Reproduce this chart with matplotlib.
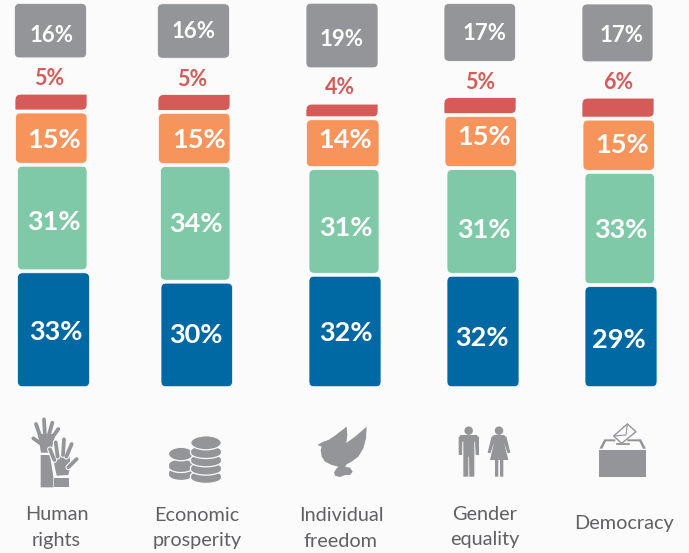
#!/usr/bin/env python3
"""Stacked percentage columns with hand-drawn looking blocks and icons."""
import numpy as np
import matplotlib
matplotlib.use("Agg")
import matplotlib.pyplot as plt
from matplotlib.path import Path
from matplotlib.patches import PathPatch, Polygon, Ellipse

# ---- data -----------------------------------------------------------------
categories = ["Human\nrights", "Economic\nprosperity", "Individual\nfreedom",
              "Gender\nequality", "Democracy"]
blue = [33, 30, 32, 32, 29]
green = [31, 34, 31, 31, 33]
orange = [15, 15, 14, 15, 15]
red = [5, 5, 4, 5, 6]
grey = [16, 16, 19, 17, 17]

# ---- layout (pixels of the 689x553 picture) --------------------------------
C_BG = "#fbfbfc"
C_BLUE, C_GREEN, C_ORANGE, C_RED, C_GREY = "#0069a3", "#80c9a8", "#f7945c", "#d65b58", "#939598"
C_TEXT = "#5f6062"
PX = 3.4            # pixels per percent
BASE = 386.7        # pixel row of 0 %
GAP = 3.0           # white gap between blocks
RED_GAP = 36.3      # room for the red label
# the blocks are not quite equally scaled in the original
stretch = {"blue": 1.015, "green": 0.983, "orange": 0.985, "red": 0.93, "grey": 1.0}
edges = {
    "blue": [(17.5, 89.5), (161, 232.5), (309, 381), (447, 519), (585, 657)],
    "green": [(17.5, 87), (160.5, 230), (309, 379), (447, 516.5), (585, 654.5)],
    "orange": [(15.5, 87), (158.5, 230), (306.5, 379), (445, 516.5), (583, 654.5)],
    "red": [(15, 87), (158, 230), (306, 378), (444, 516), (582, 654)],
    "grey": [(14.5, 86.5), (157.5, 229.5), (306, 378), (444, 515.5), (582, 653)],
}
label_xy = {
    "blue": [(56, 330), (196, 333), (345.5, 331), (481.5, 335.5), (618.5, 338.5)],
    "green": [(53.7, 220), (196, 222.5), (345.5, 226), (484.3, 228.3), (621.3, 228)],
    "orange": [(54, 137.7), (199, 137.7), (345, 138.5), (484.3, 135), (621.7, 143.3)],
    "red": [(48.7, 76.7), (191.7, 77.7), (340, 86), (480, 80.7), (618, 80.7)],
    "grey": [(51.7, 33), (194, 29.5), (342, 37), (485, 31.7), (621.7, 33)],
}
cat_xy = [(56.5, 527.5), (197, 528), (341, 528.5), (484.5, 527), (624, 524)]

plt.rcParams["font.family"] = ["Lato", "DejaVu Sans"]
fig = plt.figure(figsize=(6.89, 5.53), dpi=100, facecolor=C_BG)

# bars: x in pixels, y in percent
ax = fig.add_axes([0, 0, 1, 1])
ax.set_xlim(0, 689)
ax.set_ylim(-(553 - BASE) / PX, BASE / PX)
ax.axis("off")

# overlay in pixel rows for the icons and the texts
pa = fig.add_axes([0, 0, 1, 1])
pa.set_xlim(0, 689)
pa.set_ylim(553, 0)
pa.axis("off")
pa.patch.set_alpha(0)


def block(x0, x1, y0, y1, color, r=(5, 5, 5, 5)):
    """Rounded block; r = bottom-left, bottom-right, top-right, top-left (px)."""
    ry = [v / PX for v in r]
    verts = [(x0 + r[0], y0), (x1 - r[1], y0), (x1, y0), (x1, y0 + ry[1]),
             (x1, y1 - ry[2]), (x1, y1), (x1 - r[2], y1),
             (x0 + r[3], y1), (x0, y1), (x0, y1 - ry[3]),
             (x0, y0 + ry[0]), (x0, y0), (x0 + r[0], y0), (x0 + r[0], y0)]
    codes = [Path.MOVETO, Path.LINETO, Path.CURVE3, Path.CURVE3,
             Path.LINETO, Path.CURVE3, Path.CURVE3,
             Path.LINETO, Path.CURVE3, Path.CURVE3,
             Path.LINETO, Path.CURVE3, Path.CURVE3, Path.CLOSEPOLY]
    ax.add_patch(PathPatch(Path(verts, codes), fc=color, ec="#ffffff", lw=0.5))


for i in range(len(categories)):
    y = 0.0
    for key, vals, col in [("blue", blue, C_BLUE), ("green", green, C_GREEN),
                           ("orange", orange, C_ORANGE), ("red", red, C_RED)]:
        h = vals[i] * stretch[key]
        x0, x1 = edges[key][i]
        block(x0, x1, y, y + h, col, r=(1, 5, 0.5, 6) if key == "red" else (5, 5, 5, 5))
        y += h + GAP / PX
    y += (RED_GAP - GAP) / PX
    x0, x1 = edges["grey"][i]
    block(x0, x1, y, y + grey[i] * stretch["grey"], C_GREY)

# ---- value labels ----------------------------------------------------------
for key, vals, col, size, weight in [("blue", blue, "white", 19.5, "bold"),
                                     ("green", green, "white", 19.5, "bold"),
                                     ("orange", orange, "white", 19.5, "bold"),
                                     ("red", red, C_RED, 15.5, "bold"),
                                     ("grey", grey, "white", 16, "bold")]:
    for (lx, ly), v in zip(label_xy[key], vals):
        pa.text(lx, ly, f"{v}%", color=col, fontsize=size, fontweight=weight,
                ha="center", va="center_baseline")

for (lx, ly), name in zip(cat_xy, categories):
    pa.text(lx, ly, name, color=C_TEXT, fontsize=14.3, ha="center", va="center",
            linespacing=1.58)


# ---- icons -----------------------------------------------------------------
def zpoly(pts, ox, oy, **kw):
    """Polygon from points read in a 3x crop with origin ox, oy."""
    xy = [(ox + a / 3, oy + b / 3) for a, b in pts]
    kw.setdefault("fc", C_GREY)
    kw.setdefault("ec", "none")
    pa.add_patch(Polygon(xy, closed=True, **kw))


def hand(palm, fingers, ox, oy, outline=False):
    if outline:
        for base, tip in fingers:
            pa.plot([ox + base[0] / 3, ox + tip[0] / 3], [oy + base[1] / 3, oy + tip[1] / 3],
                    color=C_BG, lw=4.2, solid_capstyle="round")
        zpoly(palm, ox, oy, fc=C_GREY, ec=C_BG, lw=1.6)
    for base, tip in fingers:
        pa.plot([ox + base[0] / 3, ox + tip[0] / 3], [oy + base[1] / 3, oy + tip[1] / 3],
                color=C_GREY, lw=2.7, solid_capstyle="round")
    zpoly(palm, ox, oy)


# raised hands
hx, hy = 25, 410
hand([(38, 72), (92, 72), (84, 100), (78, 128), (48, 128), (44, 105)],
     [((46, 100), (25, 85)), ((48, 85), (33, 42)), ((60, 80), (57, 28)),
      ((70, 80), (82, 38)), ((80, 85), (100, 57))], hx, hy)
zpoly([(47, 135), (75, 135), (85, 200), (85, 232), (47, 232)], hx, hy)
hand([(85, 135), (132, 135), (138, 162), (130, 195), (95, 197), (88, 165)],
     [((88, 150), (75, 118)), ((98, 140), (92, 97)), ((114, 135), (117, 88)),
      ((124, 140), (140, 102)), ((130, 172), (155, 147))], hx, hy, outline=True)
zpoly([(88, 205), (133, 205), (133, 232), (88, 232)], hx, hy)


# coins
def coin(cx, cy, rx, ry, t, zorder=3):
    a = np.linspace(0, np.pi, 40)
    lower = np.c_[cx + rx * np.cos(a), cy + t + ry * np.sin(a)]
    upper = np.c_[cx - rx * np.cos(a), cy - ry * np.sin(a)]
    pa.add_patch(Polygon(np.r_[lower, upper], closed=True, fc=C_GREY, ec=C_BG,
                         lw=0.9, zorder=zorder))


for cy in [472.5, 464.5]:
    coin(181, cy, 12.5, 5.5, 2.5)
pa.add_patch(Ellipse((181, 454), 25, 13.5, fc=C_GREY, ec=C_BG, lw=0.9, zorder=3))
for cy in [476, 467.7, 459.4, 451.1]:
    coin(206, cy, 15.5, 5.6, 1.8, zorder=4)
pa.add_patch(Ellipse((206, 442.8), 30.5, 14, fc=C_GREY, ec=C_BG, lw=0.9, zorder=4))

# dove
zpoly([(37, 90), (55, 80), (70, 75), (90, 62), (105, 50), (125, 35), (127, 60), (124, 84),
       (150, 65), (185, 35), (183, 70), (175, 100), (160, 125), (140, 140), (125, 148),
       (120, 155), (135, 158), (143, 170), (135, 180), (120, 180), (105, 186), (90, 182),
       (87, 172), (95, 160), (100, 155), (80, 150), (60, 140), (50, 125), (47, 105), (50, 95)],
      305, 415)

# man and woman
px0, py0 = 340, 400
pa.add_patch(Ellipse((px0 + 386 / 3, py0 + 92 / 3), 8.5, 8.5, fc=C_GREY, ec="none"))
pa.add_patch(Ellipse((px0 + 477 / 3, py0 + 92 / 3), 8.5, 8.5, fc=C_GREY, ec="none"))
zpoly([(362, 105), (410, 105), (417, 112), (417, 165), (407, 165), (405, 125), (403, 125),
       (403, 230), (388, 230), (387, 170), (385, 170), (385, 230), (370, 230), (370, 125),
       (367, 125), (366, 165), (356, 165), (356, 112)], px0, py0)
zpoly([(462, 105), (492, 105), (500, 112), (511, 158), (503, 160), (492, 128), (505, 180),
       (490, 180), (490, 230), (480, 230), (480, 180), (475, 180), (475, 230), (465, 230),
       (465, 180), (450, 180), (462, 128), (451, 160), (443, 158), (454, 112)], px0, py0)

# ballot box
bx, by = 340, 400
zpoly([(778, 150), (918, 150), (918, 232), (778, 232)], bx, by)
zpoly([(778, 146), (793, 118), (826, 118), (826, 124), (798, 124), (787, 146)], bx, by)
zpoly([(918, 146), (903, 118), (862, 118), (862, 124), (898, 124), (909, 146)], bx, by)
zpoly([(862, 72), (888, 95), (845, 130), (821, 108)], bx, by, fc=C_BG, ec=C_GREY, lw=1.0, zorder=4)
pa.plot([bx + 821 / 3, bx + 858 / 3, bx + 862 / 3], [by + 108 / 3, by + 105 / 3, by + 72 / 3],
        color=C_GREY, lw=0.8, zorder=5)
pa.plot([bx + 830 / 3, bx + 868 / 3], [by + 133 / 3, by + 133 / 3], color=C_GREY, lw=1.3, zorder=5)

fig.savefig("out.png", dpi=100, facecolor=C_BG)
